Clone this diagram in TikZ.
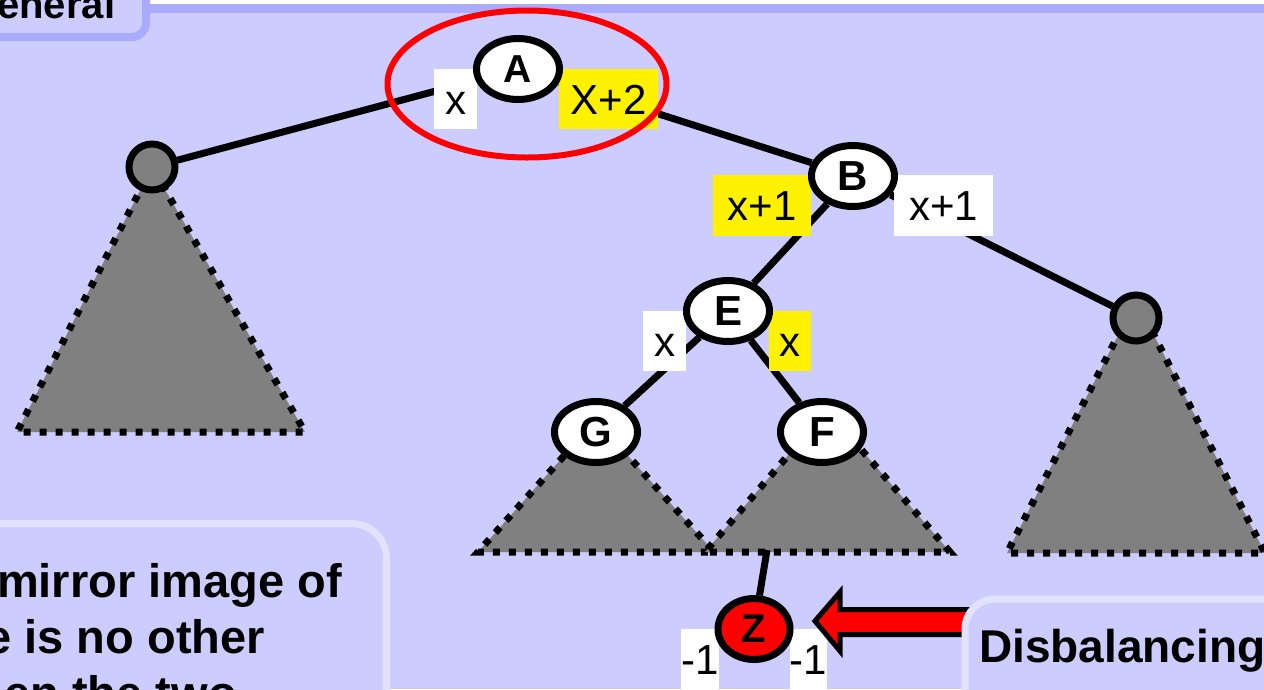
\documentclass[tikz,border=0pt]{standalone}
\usepackage{fontspec}
\setmainfont{Liberation Sans}
\usetikzlibrary{shapes.geometric}
\definecolor{bgc}{HTML}{CCCCFF}
\definecolor{band}{HTML}{AAAAFF}
\definecolor{boxb}{HTML}{E2E2FF}
\definecolor{tri}{HTML}{808080}
\pgfdeclarelayer{back}
\pgfdeclarelayer{trees}
\pgfdeclarelayer{links}
\pgfdeclarelayer{labels}
\pgfsetlayers{back,trees,links,labels,main}
\tikzset{
 treenode/.style={ellipse, draw=black, line width=7pt, fill=white, inner sep=0pt,
   minimum width=83pt, minimum height=61pt, font=\fontsize{42}{42}\selectfont\bfseries},
 leaf/.style={circle, draw=black, line width=7pt, fill=tri, inner sep=0pt, minimum size=46pt},
 subtree/.style={fill=tri, draw=black, line width=7pt, dash pattern=on 7pt off 9pt},
 edge/.style={draw=black, line width=7pt},
 lbl/.style={fill=white, inner sep=0pt, text height=30pt, text depth=0pt,
   font=\fontsize{42}{42}\selectfont, text=black},
 hl/.style={lbl, fill=yellow},
 note/.style={font=\fontsize{47}{47}\selectfont\bfseries, inner sep=0pt},
 panel/.style={draw=boxb, line width=7pt, fill=bgc}
}
\begin{document}
\begin{tikzpicture}[x=1pt,y=-1pt]
\clip (0,0) rectangle (1264,689);
\begin{pgfonlayer}{back}
\fill[bgc] (0,0) rectangle (1264,689);
\fill[white] (0,0) rectangle (1264,4);
\fill[band] (0,4) rectangle (1264,12.7);
\draw[band, line width=8pt, fill=bgc, rounded corners=14pt] (-60,-60) rectangle (146,37);
\end{pgfonlayer}
\node[anchor=base west, font=\fontsize{40}{40}\selectfont\bfseries, inner sep=0pt] (title) at (-34,18) {General};

% subtrees
\begin{pgfonlayer}{trees}
\filldraw[subtree] (152,167) -- (17,432) -- (305,432) -- cycle;
\filldraw[subtree] (1136,300) -- (1007,553) -- (1265,553) -- cycle;
\filldraw[subtree] (596,420) -- (478,552) -- (714,552) -- cycle;
\filldraw[subtree] (827,410) -- (705,552) -- (950,552) -- cycle;
\end{pgfonlayer}

% nodes
\node[leaf] (L) at (152,167) {};
\node[leaf] (R) at (1136,318) {};
\node[treenode, font=\fontsize{39}{39}\selectfont\bfseries] (A) at (518,69) {A};
\node[treenode] (B) at (853,176) {B};
\node[treenode] (E) at (728,311) {E};
\node[treenode] (G) at (596,432) {G};
\node[treenode] (F) at (822,432) {F};
\node[treenode, fill=red, minimum width=72pt, font=\fontsize{40}{40}\selectfont\bfseries] (Z) at (754,629) {Z};
\coordinate (zt) at (767,550);

% edges
\begin{pgfonlayer}{links}
\draw[edge] (A) -- (L);
\draw[edge] (A) -- (B);
\draw[edge] (B) -- (E);
\draw[edge] (B) -- (R);
\draw[edge] (E) -- (G);
\draw[edge] (E) -- (F);
\draw[edge] (zt) -- (Z);
\end{pgfonlayer}

% balance labels
\begin{pgfonlayer}{labels}
\node[lbl, minimum width=43pt, minimum height=60pt] (lA) at (455.5,99) {x};
\node[hl, minimum width=99pt, minimum height=60pt] (rA) at (608.5,99) {X+2};
\node[hl, minimum width=98pt, minimum height=61pt] (lB) at (762,205.5) {x+1};
\node[lbl, minimum width=99pt, minimum height=61pt] (rB) at (943.5,205.5) {x+1};
\node[lbl, minimum width=43pt, minimum height=60pt] (lE) at (664.5,341) {x};
\node[hl, minimum width=42pt, minimum height=60pt] (rE) at (790,341) {x};
\node[lbl, minimum width=36pt, minimum height=60pt] (lZ) at (700,659) {-1};
\node[lbl, minimum width=37pt, minimum height=60pt] (rZ) at (808.5,659) {-1};
\end{pgfonlayer}

% highlight of the unbalanced node
\node[ellipse, draw=red, line width=6pt, minimum width=279pt, minimum height=147pt, inner sep=0pt] (focus) at (527,84) {};

% arrow
\filldraw[fill=red, draw=black, line width=5pt, line join=miter]
  (815,621) -- (840,592) -- (840,609.5) -- (975,609.5) -- (975,634.5) -- (840,634.5) -- (840,651) -- cycle;

% text panels
\draw[panel, rounded corners=35pt] (-100,523.5) rectangle (386.5,800);
\draw[panel, rounded corners=30pt] (965,599) rectangle (1400,800);
\node[note, anchor=base east] (n1) at (342,597) {mirror image of};
\node[note, anchor=base east] (n2) at (265,653) {e is no other};
\node[note, anchor=base east] (n3) at (237,709) {en the two};
\node[note, anchor=base west, font=\fontsize{46}{46}\selectfont\bfseries] (n4) at (979,662) {Disbalancing};
\end{tikzpicture}
\end{document}
